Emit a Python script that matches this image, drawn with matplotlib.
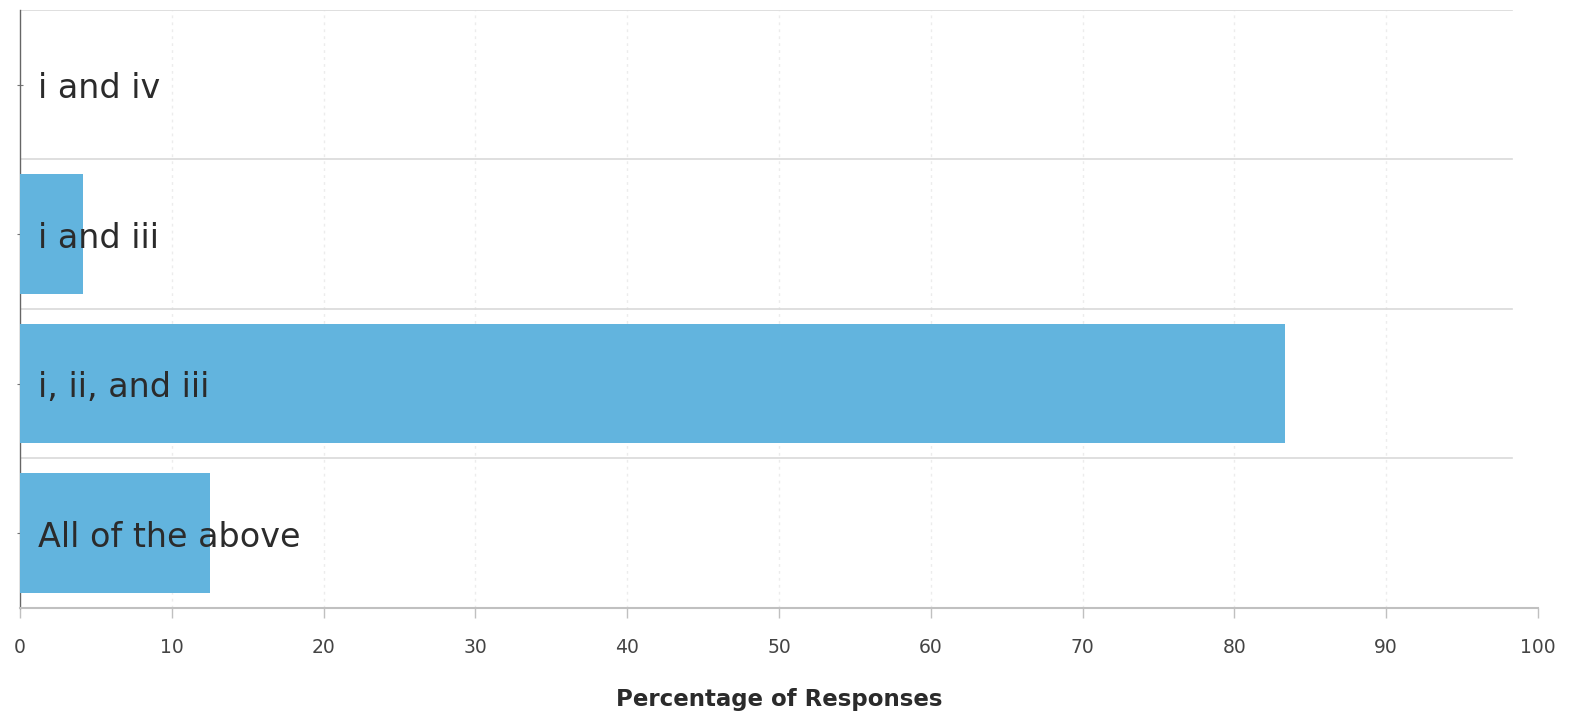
import matplotlib
matplotlib.use("Agg")
import matplotlib.pyplot as plt

categories = ["i and iv", "i and iii", "i, ii, and iii", "All of the above"]
values = [0.0, 4.17, 83.33, 12.5]
xticks = [0, 10, 20, 30, 40, 50, 60, 70, 80, 90, 100]

fig = plt.figure(figsize=(15.7, 7.13), dpi=100)
ax = fig.add_axes([0.0127, 0.1477, 0.9669, 0.8383])

ypos = list(range(len(categories)))
ax.barh(ypos, values, height=0.8, color="#62B4DE", linewidth=0, zorder=3)

ax.set_xlim(0, 100)
ax.set_ylim(3.5, -0.5)

# separators
for y in [-0.5, 0.5, 1.5, 2.5]:
    ax.plot([0, 98.3], [y, y], color="#d9d9d9", linewidth=1.2, zorder=2)

# faint vertical grid
for x in xticks[1:-1]:
    ax.axvline(x, color="#ececec", linewidth=1, linestyle=(0, (2, 3)), zorder=1)

for y, lab in zip(ypos, categories):
    ax.annotate(lab, xy=(1.2, y), xytext=(0, -3), textcoords="offset points",
                va="center", ha="left", fontsize=24, color="#2b2b2b", zorder=4)

ax.set_xticks(xticks)
ax.set_xticklabels([str(t) for t in xticks], fontsize=13.5, color="#444444")
ax.tick_params(axis="x", length=7, color="#c0c0c0", width=1, pad=15)
ax.set_yticks(ypos)
ax.set_yticklabels([])
ax.tick_params(axis="y", length=4, direction="inout", color="#777777", width=0.8)

for s in ["top", "right"]:
    ax.spines[s].set_visible(False)
ax.spines["bottom"].set_color("#c0c0c0")
ax.spines["bottom"].set_linewidth(1.5)
ax.spines["left"].set_color("#666666")
ax.spines["left"].set_linewidth(1)

ax.set_xlabel("Percentage of Responses", fontsize=16.5, fontweight="bold", color="#2b2b2b", labelpad=22)

fig.savefig("out.png", dpi=100, facecolor="white")
